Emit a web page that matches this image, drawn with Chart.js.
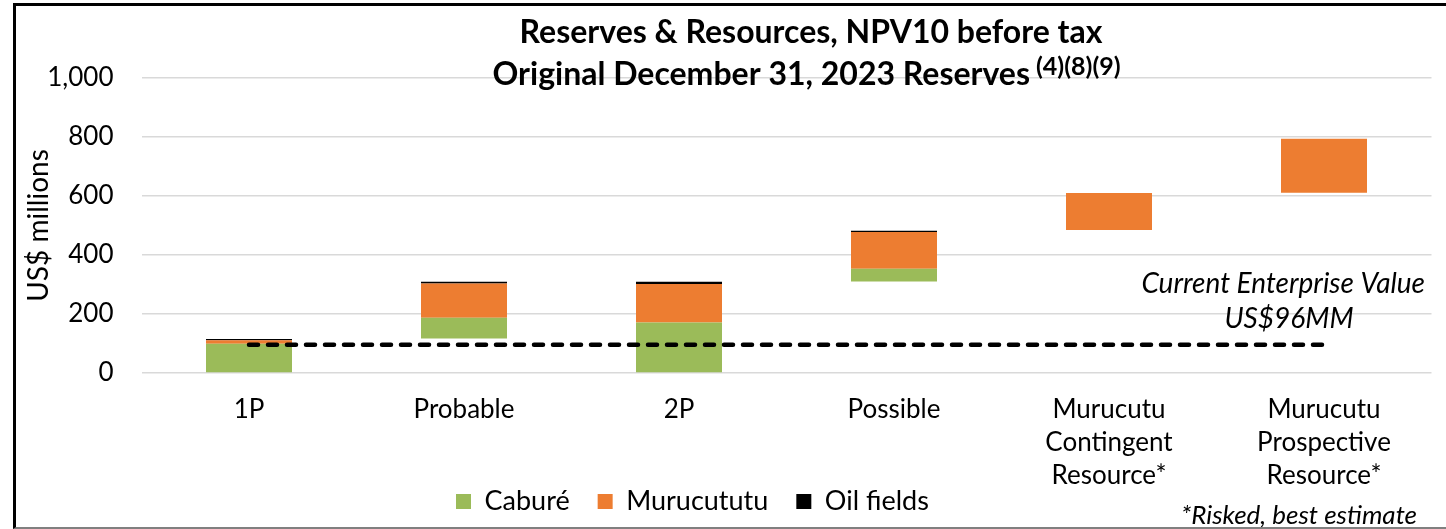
<!DOCTYPE html>
<html>
<head>
<meta charset="utf-8">
<script src="https://cdn.jsdelivr.net/npm/chart.js@4"></script>
<style>
  html, body { margin: 0; padding: 0; background: #fff; }
  #wrap { position: relative; width: 1446px; height: 529px; }
  canvas { position: absolute; left: 0; top: 0; }
  #frame { position: absolute; left: 13px; top: 3px; right: 0; bottom: 0; border-top: 3px solid #000; border-left: 3px solid #000; border-bottom: 2px solid #808080; pointer-events: none; }
</style>
</head>
<body>
<div id="wrap">
  <canvas id="chart" width="1446" height="529"></canvas>
  <div id="frame"></div>
</div>
<script>
// data (US$ millions)
const categories = ['1P', 'Probable', '2P', 'Possible',
  ['Murucutu', 'Contingent', 'Resource*'], ['Murucutu', 'Prospective', 'Resource*']];
const baseValues = [0, 117, 0, 310, 485, 611];   // invisible floor of each floating bar
const cabure = [99, 70, 171, 43, 0, 0];
const murucututu = [12, 116, 131, 125, 125, 183];
const oilFields = [4, 6, 7, 4, 0, 0];
const enterpriseValue = 96;
const yTicks = [0, 200, 400, 600, 800, 1000];

const titleLines = ['Reserves & Resources, NPV10 before tax', 'Original December 31, 2023 Reserves'];
const titleNote = '(4)(8)(9)';
const evLabel = ['Current Enterprise Value', 'US$96MM'];
const footnote = '*Risked, best estimate';

const FONT = 'Lato';

// titles, enterprise value note, footnote, and legend / axis placement
const notesPlugin = {
  id: 'notes',
  afterLayout(chart) {
    // let the multi-line x labels run under the legend without being clipped
    const xs = chart.scales.x;
    xs.bottom = chart.height;
    xs.height = xs.bottom - xs.top;

    const lg = chart.legend;
    const shiftY = 460 - lg.top;
    lg.top += shiftY;
    lg.bottom += shiftY;
    lg.left = 456 - lg.options.labels.padding;
  },
  afterDraw(chart) {
    const ctx = chart.ctx;
    ctx.save();
    ctx.fillStyle = '#000';
    ctx.textBaseline = 'middle';

    ctx.font = 'bold 32px ' + FONT;
    ctx.textAlign = 'center';
    ctx.fillText(titleLines[0], 811, 33);

    ctx.textAlign = 'left';
    const w = ctx.measureText(titleLines[1]).width;
    const x0 = 1030 - w;
    ctx.fillText(titleLines[1], x0, 75);
    ctx.font = 'bold 25px ' + FONT;
    ctx.fillText(titleNote, x0 + w + 6, 67);

    const y = chart.scales.y;
    const yv = y.getPixelForValue(enterpriseValue);
    ctx.font = 'italic 28px ' + FONT;
    ctx.textAlign = 'right';
    ctx.fillText(evLabel[0], 1425, yv - 61);
    ctx.textAlign = 'center';
    ctx.fillText(evLabel[1], 1289, yv - 26);

    ctx.font = 'italic 26px ' + FONT;
    ctx.textAlign = 'right';
    ctx.fillText(footnote, 1417, 516);
    ctx.restore();
  }
};

new Chart(document.getElementById('chart'), {
  type: 'bar',
  data: {
    labels: categories,
    datasets: [
      { label: 'base', data: baseValues, backgroundColor: 'rgba(0,0,0,0)', stack: 's', order: 1 },
      { label: 'Caburé', data: cabure, backgroundColor: '#9BBB59', stack: 's', order: 1 },
      { label: 'Murucututu', data: murucututu, backgroundColor: '#ED7D31', stack: 's', order: 1 },
      { label: 'Oil fields', data: oilFields, backgroundColor: '#000000', stack: 's', order: 1 },
      {
        type: 'line',
        label: 'Enterprise value',
        data: categories.map(() => enterpriseValue),
        borderColor: '#000',
        borderWidth: 4.5,
        borderDash: [9, 10],
        borderCapStyle: 'round',
        pointRadius: 0,
        fill: false,
        stack: 'ev',
        order: 0
      }
    ]
  },
  options: {
    responsive: false,
    animation: false,
    categoryPercentage: 0.4,
    barPercentage: 1,
    layout: { padding: { left: 16, right: 14.5, top: 78, bottom: 0 } },
    plugins: {
      tooltip: { enabled: false },
      title: { display: false },
      legend: {
        position: 'bottom',
        align: 'start',
        labels: {
          filter: item => item.datasetIndex >= 1 && item.datasetIndex <= 3,
          boxWidth: 15,
          boxHeight: 15,
          padding: 28,
          color: '#000',
          font: { family: FONT, size: 27 }
        }
      }
    },
    scales: {
      x: {
        stacked: true,
        grid: { display: false, drawTicks: false },
        border: { display: false },
        ticks: {
          color: '#000',
          padding: 20,
          maxRotation: 0,
          autoSkip: false,
          font: { family: FONT, size: 26, lineHeight: 33 / 26 }
        },
        afterFit: s => { s.height = 91; }
      },
      y: {
        stacked: true,
        min: 0,
        max: 1000,
        afterBuildTicks: s => { s.ticks = yTicks.map(v => ({ value: v })); },
        grid: { color: '#D9D9D9', lineWidth: 1.5, drawTicks: false },
        border: { display: false },
        ticks: {
          color: '#000',
          padding: 28,
          font: { family: FONT, size: 26 }
        },
        title: {
          display: true,
          text: 'US$ millions',
          color: '#000',
          padding: { top: 6, bottom: 0 },
          font: { family: FONT, size: 28 }
        },
        afterFit: s => { s.width = 125.5; }
      }
    }
  },
  plugins: [notesPlugin]
});
</script>
</body>
</html>
